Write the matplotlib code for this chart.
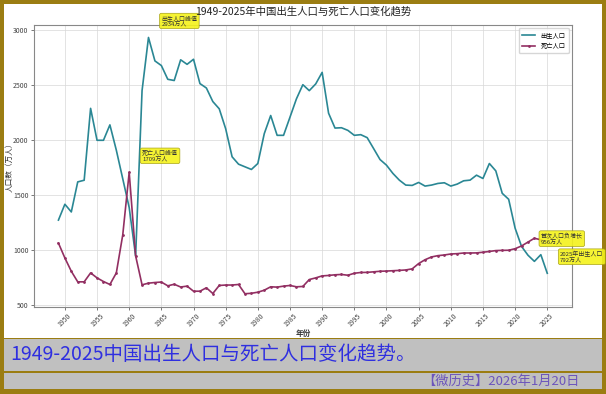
import matplotlib
matplotlib.use("Agg")
import matplotlib.pyplot as plt
from matplotlib.patches import Rectangle

plt.rcParams['font.family'] = ['Noto Sans CJK SC', 'DejaVu Sans']
plt.rcParams['axes.unicode_minus'] = False

# ---- data (万人)
birth_years = list(range(1949, 2026))
births = [1275, 1419, 1349, 1622, 1637, 2290, 2000, 2000, 2140, 1910,
          1650, 1389, 949, 2451, 2934, 2721, 2679, 2554, 2543, 2731,
          2690, 2736, 2515, 2475, 2352, 2286, 2105, 1850, 1783, 1759,
          1735, 1789, 2060, 2225, 2045, 2045, 2210, 2376, 2505, 2451,
          2512, 2617, 2246, 2111, 2114, 2090, 2045, 2051, 2024, 1925,
          1825, 1774, 1699, 1638, 1593, 1590, 1617, 1584, 1593, 1608,
          1614, 1584, 1602, 1632, 1638, 1683, 1653, 1789, 1722, 1518,
          1464, 1202, 1036, 956, 900, 961, 792]

death_years = list(range(1949, 2025))
deaths = [1066, 931, 810, 714, 714, 795, 750, 717, 690, 795,
          1141, 1709, 950, 687, 702, 708, 712, 678, 692, 667,
          675, 629, 629, 660, 608, 681, 685, 685, 690, 606,
          610, 620, 638, 669, 666, 675, 681, 669, 672, 735,
          750, 768, 772, 778, 781, 774, 792, 799, 800, 805,
          810, 812, 815, 818, 822, 832, 880, 915, 940, 952,
          958, 967, 970, 976, 976, 977, 983, 990, 998, 1000,
          1001, 1015, 1040, 1075, 1110, 1096]

note_years = [1963, 1960, 2022, 2025]
note_values = [2934, 1709, 956, 792]
note_texts = ["出生人口峰值\n2934万人", "死亡人口峰值\n1709万人",
              "首次人口负增长\n956万人", "2025年出生人口\n792万人"]

gold = '#9b7d12'
W, H = 606, 394

fig = plt.figure(figsize=(W / 100, H / 100), dpi=100)
fig.patch.set_facecolor(gold)

def px_rect(x0, y0, x1, y1, color):
    # rectangle given in pixel coords, origin top-left
    fig.add_artist(Rectangle((x0 / W, 1 - y1 / H), (x1 - x0) / W, (y1 - y0) / H,
                             transform=fig.transFigure, fc=color, ec='none', zorder=0))

px_rect(4, 4, 602, 338, 'white')
px_rect(4, 339, 602, 389, '#c0c0c0')
px_rect(4, 371, 602, 372.5, gold)

ax = fig.add_axes([34 / W, 1 - 306.5 / H, (571.7 - 34) / W, (306.5 - 24.7) / H])
ax.set_facecolor('white')

ax.plot(birth_years, births, color='#2a8794', lw=1.2, label='出生人口')
ax.plot(death_years, deaths, color='#922f62', lw=1.2, marker='o', ms=1.0, label='死亡人口')

for x, y, t in zip(note_years, note_values, note_texts):
    ax.annotate(t, xy=(x, y), xytext=(x + 2, y + 150), ha='left', va='center',
                fontsize=4.3, linespacing=1.1, color='#333333', annotation_clip=False,
                bbox=dict(boxstyle='round,pad=0.3', fc='#f4f21c', ec='#a09a10', lw=0.5, alpha=0.9))

ax.set_xlim(1945.2, 2028.8)
ax.set_ylim(490, 3050)
ax.set_xticks(range(1950, 2026, 5))
ax.set_yticks(range(500, 3001, 500))
ax.tick_params(labelsize=5, length=2, width=0.5, colors='#444444', pad=2)
plt.setp(ax.get_xticklabels(), rotation=45)
ax.grid(True, color='#d8d8d8', lw=0.5)
for s in ax.spines.values():
    s.set_color('#888888')
    s.set_linewidth(0.8)

ax.set_xlabel('年份', fontsize=5.5, fontweight='bold', color='#333333', labelpad=0)
ax.set_ylabel('人口数（万人）', fontsize=5.5, color='#333333')
ax.yaxis.set_label_coords(-0.038, 0.5)
ax.legend(loc='upper right', fontsize=4.5, frameon=True, edgecolor='#cccccc',
          handlelength=2.2, borderpad=0.5)

fig.text(0.5, 1 - 11.7 / H, '1949-2025年中国出生人口与死亡人口变化趋势',
         ha='center', va='center', fontsize=7.5, color='#222222')

fig.text(10 / W, 1 - 355 / H, '1949-2025中国出生人口与死亡人口变化趋势。',
         ha='left', va='center', fontsize=14, color='#2f2fe0')
fig.text(580 / W, 1 - 381 / H, '【微历史】2026年1月20日',
         ha='right', va='center', fontsize=9.5, color='#6c55bc')

fig.savefig('out.png', dpi=100, facecolor=fig.get_facecolor())
